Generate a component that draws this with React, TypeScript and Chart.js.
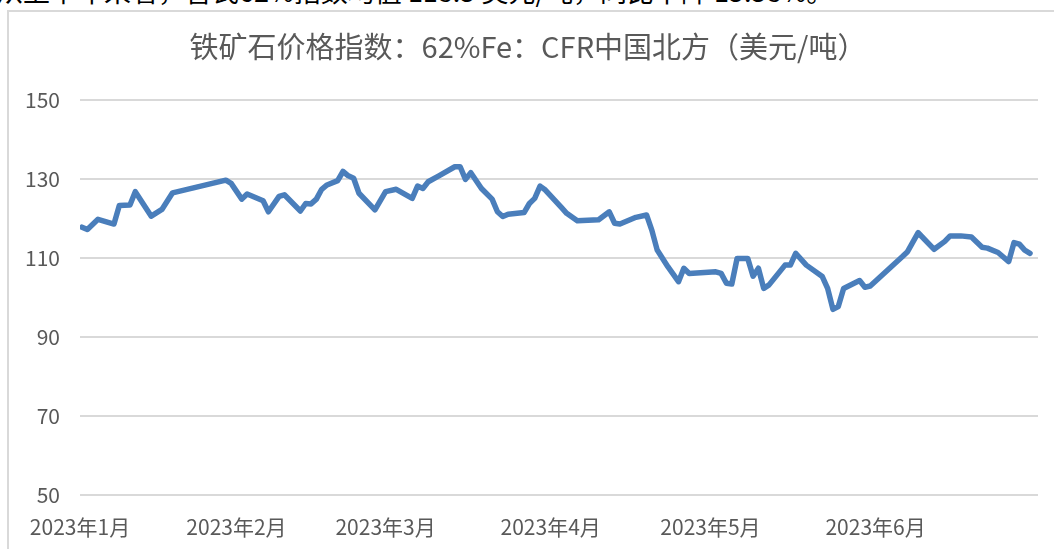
import React, { useEffect, useRef } from "react";
import { Chart, registerables } from "chart.js";

Chart.register(...registerables);

const chartTitle = "铁矿石价格指数：62%Fe：CFR中国北方（美元/吨）";
const introText = "从上半年来看，普氏62%指数均值 118.5 美元/吨，同比下降 15.58%。";

const monthLabels = ["2023年1月", "2023年2月", "2023年3月", "2023年4月", "2023年5月", "2023年6月"];
const monthStarts = ["01-01", "02-01", "03-01", "04-01", "05-01", "06-01"];
const yTicks = [50, 70, 90, 110, 130, 150];

const dates = [
  "01-03", "01-04", "01-06", "01-09", "01-10", "01-12", "01-13", "01-16", "01-18", "01-20",
  "01-30", "01-31", "02-02", "02-03", "02-06", "02-07", "02-09", "02-10", "02-13", "02-14",
  "02-15", "02-16", "02-17", "02-18", "02-20", "02-21", "02-22", "02-23", "02-24", "02-27",
  "03-01", "03-03", "03-06", "03-07", "03-08", "03-09", "03-11", "03-14", "03-15", "03-16",
  "03-17", "03-19", "03-21", "03-22", "03-23", "03-24", "03-27", "03-28", "03-29", "03-30",
  "03-31", "04-03", "04-04", "04-06", "04-10", "04-12", "04-13", "04-14", "04-17", "04-19",
  "04-20", "04-21", "04-23", "04-25", "04-26", "04-27", "05-02", "05-03", "05-04", "05-05",
  "05-06", "05-08", "05-09", "05-10", "05-11", "05-12", "05-15", "05-16", "05-17", "05-19",
  "05-22", "05-23", "05-24", "05-25", "05-26", "05-29", "05-30", "05-31", "06-02", "06-06",
  "06-07", "06-09", "06-12", "06-14", "06-15", "06-17", "06-19", "06-21", "06-22", "06-24",
  "06-26", "06-27", "06-28", "06-29", "06-30",
];

const prices = [
  117.8, 117.2, 119.8, 118.6, 123.3, 123.4, 126.8, 120.6, 122.3, 126.5,
  129.7, 128.9, 124.9, 126.2, 124.5, 121.7, 125.6, 126.0, 121.9, 123.8,
  123.7, 124.9, 127.4, 128.5, 129.6, 131.9, 130.8, 130.2, 126.4, 122.2,
  126.8, 127.4, 125.1, 128.2, 127.6, 129.3, 130.8, 133.1, 133.1, 129.9,
  131.6, 127.6, 124.9, 121.7, 120.5, 121.1, 121.5, 123.8, 125.1, 128.2,
  127.2, 122.8, 121.3, 119.4, 119.7, 121.7, 118.8, 118.6, 120.3, 120.9,
  117.0, 112.0, 107.8, 104.0, 107.4, 106.1, 106.5, 106.1, 103.6, 103.4,
  109.9, 109.9, 105.4, 107.4, 102.3, 103.2, 108.2, 108.2, 111.2, 108.2,
  105.3, 102.3, 97.0, 97.7, 102.3, 104.3, 102.6, 102.9, 105.4, 110.3,
  111.6, 116.4, 112.2, 114.2, 115.6, 115.6, 115.3, 112.7, 112.5, 111.4,
  109.1, 113.9, 113.5, 112.0, 111.2,
];

const dayOfYear = (md: string) => {
  const [m, d] = md.split("-").map(Number);
  return (Date.UTC(2023, m - 1, d) - Date.UTC(2023, 0, 1)) / 86400000;
};

const FONT = "'Noto Sans CJK SC', 'Noto Sans', sans-serif";
const X_MIN = 1.62;
const X_MAX = 181.5;

const titlePlugin = {
  id: "centeredTitle",
  afterDraw(chart: any) {
    const ctx = chart.ctx;
    ctx.save();
    ctx.font = `normal 29px ${FONT}`;
    ctx.fillStyle = "#595959";
    ctx.textAlign = "center";
    ctx.textBaseline = "middle";
    ctx.fillText(chartTitle, 528, 47);
    ctx.restore();
  },
};

export default function App() {
  const canvasRef = useRef<HTMLCanvasElement | null>(null);

  useEffect(() => {
    if (!canvasRef.current) return;
    const points = dates.map((d, i) => ({ x: dayOfYear(d), y: prices[i] }));
    const tickDays = monthStarts.map((d) => Math.max(dayOfYear(d), X_MIN));

    const chart = new Chart(canvasRef.current, {
      type: "line",
      data: {
        datasets: [
          {
            label: chartTitle,
            data: points,
            borderColor: "#4a7ebb",
            borderWidth: 5.5,
            pointRadius: 0,
            tension: 0,
            borderJoinStyle: "round",
            borderCapStyle: "round",
            fill: false,
          },
        ],
      },
      options: {
        responsive: false,
        animation: false,
        layout: { padding: { left: 0, right: 16, top: 100, bottom: 10 } },
        plugins: {
          legend: { display: false },
          tooltip: { enabled: false },
          title: { display: false },
        },
        scales: {
          x: {
            type: "linear",
            min: X_MIN,
            max: X_MAX,
            grid: { display: false, drawTicks: false },
            border: { display: false },
            afterBuildTicks: (scale: any) => {
              scale.ticks = tickDays.map((v) => ({ value: v }));
            },
            afterFit: (scale: any) => {
              scale.height = 44;
            },
            ticks: {
              autoSkip: false,
              maxRotation: 0,
              padding: 19,
              color: "#595959",
              font: { family: FONT, size: 21 },
              callback: (_v: any, i: number) => monthLabels[i],
            },
          },
          y: {
            min: 50,
            max: 150,
            afterBuildTicks: (scale: any) => {
              scale.ticks = yTicks.map((v) => ({ value: v }));
            },
            afterFit: (scale: any) => {
              scale.width = 80;
            },
            grid: { color: "#d9d9d9", lineWidth: 2, drawTicks: false },
            border: { display: false },
            ticks: {
              padding: 20,
              color: "#595959",
              font: { family: FONT, size: 21 },
            },
          },
        },
      },
      plugins: [titlePlugin],
    });
    return () => chart.destroy();
  }, []);

  return (
    <div
      style={{
        position: "fixed",
        left: 0,
        top: 0,
        width: 1054,
        height: 549,
        background: "#fff",
        overflow: "hidden",
      }}
    >
      <div
        style={{
          position: "absolute",
          left: -4,
          top: -23,
          fontFamily: FONT,
          fontSize: 27,
          color: "#000",
          whiteSpace: "nowrap",
          lineHeight: "28px",
        }}
      >
        {introText}
      </div>
      <div
        style={{
          position: "absolute",
          left: 7,
          top: 10,
          width: 1100,
          height: 600,
          border: "2px solid #d9d9d9",
        }}
      />
      <canvas
        ref={canvasRef}
        width={1054}
        height={549}
        style={{ position: "absolute", left: 0, top: 0, width: 1054, height: 549 }}
      />
    </div>
  );
}
